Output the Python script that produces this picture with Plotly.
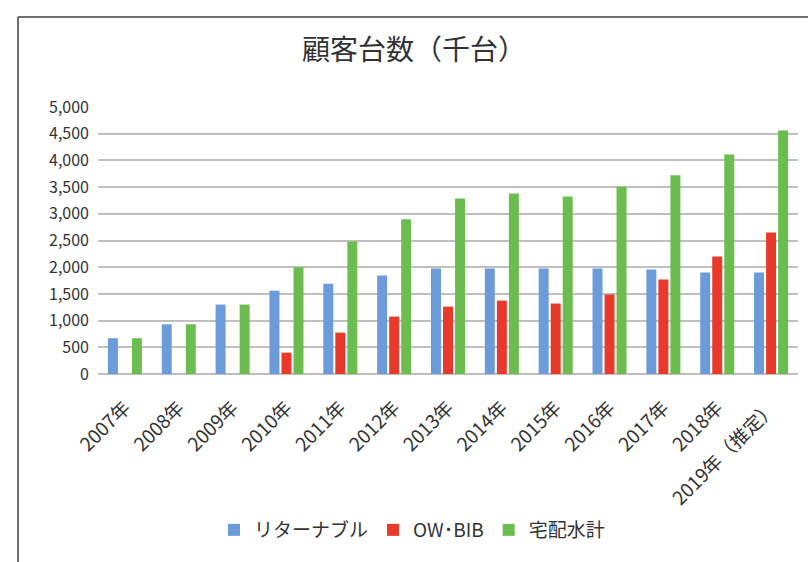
import plotly.graph_objects as go

categories = ["2007年", "2008年", "2009年", "2010年", "2011年", "2012年", "2013年",
              "2014年", "2015年", "2016年", "2017年", "2018年", "2019年（推定）"]
returnable = [670, 930, 1300, 1560, 1690, 1845, 1975, 1975, 1975, 1975, 1955, 1900, 1900]
ow_bib = [None, None, None, 400, 775, 1075, 1262, 1375, 1320, 1487, 1770, 2200, 2650]
takuhai = [670, 930, 1300, 2000, 2480, 2900, 3285, 3380, 3325, 3505, 3720, 4112, 4562]
series_names = ["リターナブル", "OW･BIB", "宅配水計"]
tick_vals = [0, 500, 1000, 1500, 2000, 2500, 3000, 3500, 4000, 4500, 5000]
tick_text = ["0", "500", "1,000", "1,500", "2,000", "2,500", "3,000", "3,500",
             "4,000", "4,500", "5,000"]

FONT = "Noto Sans CJK JP"
W, H = 808, 562
L, R, T, B = 98, 798, 107, 374

fig = go.Figure()
for name, vals, col in zip(series_names, [returnable, ow_bib, takuhai],
                           ["#6b9bd8", "#e8392b", "#6cbd50"]):
    fig.add_trace(go.Bar(x=categories, y=vals, name=name, marker_color=col,
                         marker_line_width=0))

def px_x(p):
    return (p - L) / (R - L)

def px_y(p):
    return (B - p) / (B - T)

fig.update_layout(
    width=W, height=H,
    margin=dict(l=L, r=W - R, t=T, b=H - B, autoexpand=False),
    paper_bgcolor="white", plot_bgcolor="white",
    barmode="group", bargap=0.33, bargroupgap=0.17,
    font=dict(family=FONT, color="#333333", size=16),
    title=dict(text="顧客台数（千台）", x=414 / W, xanchor="center",
               y=1 - 50 / H, yanchor="middle",
               font=dict(family=FONT, size=28, color="#333333")),
    legend=dict(orientation="h", x=px_x(412), xanchor="center",
                y=px_y(530), yanchor="middle",
                font=dict(family=FONT, size=19, color="#333333"),
                itemwidth=30, traceorder="normal"),
    xaxis=dict(tickangle=-45, tickfont=dict(family=FONT, size=19, color="#333333"),
               showgrid=False, showline=False, ticks="", automargin=False,
               ticklabelstandoff=18),
    yaxis=dict(range=[0, 5000], tickvals=tick_vals, ticktext=tick_text,
               tickfont=dict(family=FONT, size=16, color="#333333"),
               showgrid=True, gridcolor="#bfbfbf", gridwidth=1.5,
               zeroline=True, zerolinecolor="#bfbfbf", zerolinewidth=1.5,
               showline=False, ticks="", ticklabelstandoff=8, automargin=False),
    shapes=[
        dict(type="line", xref="paper", yref="paper",
             x0=px_x(18), x1=px_x(18), y0=px_y(17), y1=px_y(562),
             line=dict(color="#404040", width=1.5)),
        dict(type="line", xref="paper", yref="paper",
             x0=px_x(18), x1=px_x(808), y0=px_y(17), y1=px_y(17),
             line=dict(color="#404040", width=1.5)),
    ],
)

fig.write_html("out.html", config={"displayModeBar": False},
               post_script="document.body.style.margin='0px';document.body.style.padding='0px';")
